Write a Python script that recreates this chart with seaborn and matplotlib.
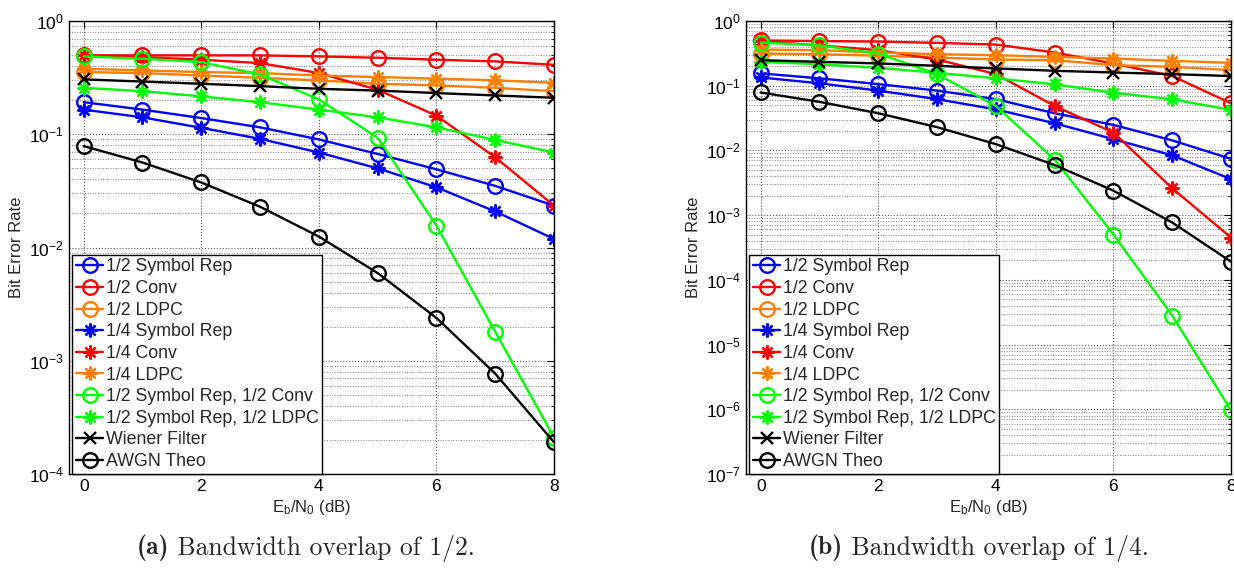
import numpy as np
import pandas as pd
import matplotlib
matplotlib.use("Agg")
import matplotlib.pyplot as plt
import matplotlib.ticker as mticker
import seaborn as sns

# Eb/N0 points (dB)
snr = [0, 1, 2, 3, 4, 5, 6, 7, 8]

# (a) bandwidth overlap of 1/2
a_sym2 = [0.192, 0.165, 0.139, 0.115, 0.090, 0.067, 0.049, 0.035, 0.0234]
a_conv2 = [0.497, 0.497, 0.497, 0.497, 0.487, 0.474, 0.455, 0.44, 0.41]
a_ldpc2 = [0.354, 0.347, 0.330, 0.315, 0.299, 0.279, 0.27, 0.257, 0.240]
a_sym4 = [0.165, 0.141, 0.114, 0.091, 0.069, 0.050, 0.034, 0.0208, 0.0119]
a_conv4 = [0.497, 0.48, 0.455, 0.425, 0.347, 0.247, 0.146, 0.0626, 0.0234]
a_ldpc4 = [0.379, 0.366, 0.354, 0.347, 0.33, 0.32, 0.31, 0.299, 0.285]
a_sym_conv = [0.487, 0.464, 0.434, 0.337, 0.203, 0.093, 0.0156, 0.0018, 0.00021]
a_sym_ldpc = [0.257, 0.24, 0.216, 0.192, 0.165, 0.141, 0.115, 0.089, 0.069]
a_wiener = [0.305, 0.292, 0.279, 0.266, 0.252, 0.243, 0.231, 0.220, 0.21]

# (b) bandwidth overlap of 1/4
b_sym2 = [0.155, 0.130, 0.106, 0.084, 0.062, 0.0375, 0.0248, 0.0143, 0.0074]
b_conv2 = [0.5, 0.49, 0.481, 0.459, 0.432, 0.326, 0.22, 0.141, 0.0535]
b_ldpc2 = [0.314, 0.307, 0.29, 0.273, 0.254, 0.248, 0.208, 0.196, 0.174]
b_sym4 = [0.134, 0.109, 0.084, 0.062, 0.043, 0.0263, 0.0149, 0.0084, 0.0036]
b_conv4 = [0.486, 0.42, 0.354, 0.254, 0.151, 0.0486, 0.0189, 0.0026, 0.00045]
b_ldpc4 = [0.362, 0.354, 0.326, 0.307, 0.296, 0.279, 0.263, 0.242, 0.226]
b_sym_conv = [0.464, 0.42, 0.314, 0.151, 0.0486, 0.0072, 0.0005, 2.8e-5, 9.6e-7]
b_sym_ldpc = [0.234, 0.215, 0.189, 0.158, 0.130, 0.105, 0.078, 0.0616, 0.0422]
b_wiener = [0.248, 0.234, 0.221, 0.203, 0.185, 0.170, 0.160, 0.151, 0.141]

# theoretical BPSK in AWGN (same on both panels)
awgn = [0.0786, 0.0563, 0.0375, 0.0229, 0.0125, 0.00595, 0.00239, 0.00077, 0.000191]

labels = ["1/2 Symbol Rep", "1/2 Conv", "1/2 LDPC",
          "1/4 Symbol Rep", "1/4 Conv", "1/4 LDPC",
          "1/2 Symbol Rep, 1/2 Conv", "1/2 Symbol Rep, 1/2 LDPC",
          "Wiener Filter", "AWGN Theo"]

BLUE, RED, ORANGE, GREEN, BLACK = "#0000ff", "#ff0000", "#ff7f00", "#00ff00", "#000000"
STAR = (8, 2, 0)
colors = [BLUE, RED, ORANGE, BLUE, RED, ORANGE, GREEN, GREEN, BLACK, BLACK]
markers = ["o", "o", "o", STAR, STAR, STAR, "o", STAR, "x", "o"]
msizes = [10.5, 10.5, 10.5, 10, 10, 10, 10.5, 10, 8, 10.5]

sns.set_style("white")
plt.rcParams["font.family"] = ["Liberation Sans", "DejaVu Sans"]
plt.rcParams["mathtext.fontset"] = "custom"
plt.rcParams["mathtext.rm"] = "Liberation Sans"
plt.rcParams["mathtext.it"] = "Liberation Sans:italic"
plt.rcParams["mathtext.bf"] = "Liberation Sans:bold"

fig = plt.figure(figsize=(12.34, 5.71), dpi=100)
ax_a = fig.add_axes([69 / 1234, 97 / 571, 485 / 1234, 453 / 571])
ax_b = fig.add_axes([746 / 1234, 97 / 571, 485 / 1234, 453 / 571])


def draw_panel(ax, series, ymin):
    for vals, lab, c, m, ms in zip(series, labels, colors, markers, msizes):
        df = pd.DataFrame({"snr": snr, "ber": vals})
        sns.lineplot(data=df, x="snr", y="ber", ax=ax, color=c, marker=m, label=lab,
                     linewidth=1.7, markersize=ms, markerfacecolor="none",
                     markeredgecolor=c, markeredgewidth=1.7)
    ax.set_yscale("log")
    ax.set_xlim(-0.25, 8)
    ax.set_ylim(ymin, 1)
    ax.set_xticks([0, 2, 4, 6, 8])
    ax.yaxis.set_major_locator(mticker.LogLocator(base=10, numticks=20))
    ax.yaxis.set_minor_locator(mticker.LogLocator(base=10, subs=np.arange(2, 10), numticks=20))
    ax.yaxis.set_minor_formatter(mticker.NullFormatter())
    ax.grid(True, which="major", axis="both", linestyle=":", color="0.35", linewidth=0.8)
    ax.grid(True, which="minor", axis="y", linestyle=":", color="0.5", linewidth=0.7)
    ax.tick_params(which="both", direction="in", top=True, right=True, labelsize=12.5,
                   colors="black")
    ax.tick_params(which="major", length=5, width=0.8)
    ax.tick_params(which="minor", length=2.5, width=0.6)
    for sp in ax.spines.values():
        sp.set_color("black")
        sp.set_linewidth(1.0)
    ax.set_xlabel(r"E$_\mathrm{b}$/N$_\mathrm{0}$ (dB)", fontsize=12, labelpad=3)
    ax.set_ylabel("Bit Error Rate", fontsize=12, labelpad=4)
    leg = ax.legend(loc="lower left", bbox_to_anchor=(0.006, 0.0), borderaxespad=0,
                    fontsize=12.8, handlelength=1.55, handletextpad=0.12, labelspacing=0.26,
                    borderpad=0.22, fancybox=False, framealpha=1, edgecolor="black")
    leg.get_frame().set_linewidth(1.0)


draw_panel(ax_a, [a_sym2, a_conv2, a_ldpc2, a_sym4, a_conv4, a_ldpc4,
                  a_sym_conv, a_sym_ldpc, a_wiener, awgn], 1e-4)
draw_panel(ax_b, [b_sym2, b_conv2, b_ldpc2, b_sym4, b_conv4, b_ldpc4,
                  b_sym_conv, b_sym_ldpc, b_wiener, awgn], 1e-7)


# sub-captions in a Computer Modern look, "(a)" in bold
def caption(xc, tag, rest):
    renderer = fig.canvas.get_renderer()
    t1 = fig.text(0, 0.04, tag, family="cmb10", fontsize=18.5, va="center", ha="left")
    t2 = fig.text(0, 0.04, " " + rest, family="cmr10", fontsize=18.5, va="center", ha="left")
    w1 = t1.get_window_extent(renderer).width
    w2 = t2.get_window_extent(renderer).width
    x0 = xc * 1234 - (w1 + w2) / 2
    t1.set_x(x0 / 1234)
    t2.set_x((x0 + w1) / 1234)


caption(306 / 1234, "(a)", "Bandwidth overlap of 1/2.")
caption(979 / 1234, "(b)", "Bandwidth overlap of 1/4.")

fig.savefig("out.png", dpi=100)
